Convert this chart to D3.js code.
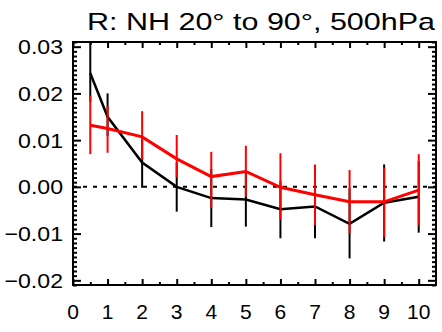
<!DOCTYPE html>
<html><head><meta charset="utf-8">
<script src="https://cdn.jsdelivr.net/npm/d3@7"></script>
<style>body{margin:0;background:#fff}svg{display:block}text{font-family:"Liberation Sans",Arial,Helvetica,sans-serif;fill:#000}</style>
</head><body><svg id="c" width="442" height="332"></svg>
<script>
const titleText = "R: NH 20° to 90°, 500hPa";
const xValues = [0.5, 1, 2, 3, 4, 5, 6, 7, 8, 9, 10];
const xTickLabels = ["0","1","2","3","4","5","6","7","8","9","10"];
const yTickValues = [-0.02, -0.01, 0.00, 0.01, 0.02, 0.03];
const yTickLabels = ["\u22120.02","\u22120.01","0.00","0.01","0.02","0.03"];
const blackMean = [0.0243, 0.0150, 0.0052, 0.0000, -0.0024, -0.0027, -0.0048, -0.0042, -0.0079, -0.0034, -0.0021];
const blackHigh = [0.0320, 0.0200, 0.0103, 0.0052, 0.0038, 0.0032, 0.0013, 0.0025, -0.0003, 0.0048, 0.0055];
const blackLow  = [0.0182, 0.0109, -0.0002, -0.0053, -0.0086, -0.0085, -0.0110, -0.0110, -0.0153, -0.0117, -0.0098];
const redMean = [0.0132, 0.0125, 0.0107, 0.0060, 0.0022, 0.0033, -0.0001, -0.0017, -0.0032, -0.0032, -0.0007];
const redHigh = [0.0195, 0.0173, 0.0162, 0.0111, 0.0075, 0.0088, 0.0072, 0.0048, 0.0036, 0.0041, 0.0070];
const redLow  = [0.0070, 0.0073, 0.0058, 0.0021, -0.0045, -0.0021, -0.0069, -0.0082, -0.0099, -0.0107, -0.0082];

const svg = d3.select("#c");
const L = 73, R = 436, T = 42, B = 285;
const x = d3.scaleLinear().domain([0, 10.5]).range([L, R]);
const y = d3.scaleLinear().domain([-0.021, 0.031]).range([B, T]);

svg.append("defs").append("clipPath").attr("id","clip")
  .append("rect").attr("x",L).attr("y",T).attr("width",R-L).attr("height",B-T);
const plot = svg.append("g").attr("clip-path","url(#clip)");

plot.append("line").attr("x1",L).attr("x2",R).attr("y1",y(0)).attr("y2",y(0))
  .attr("stroke","#000").attr("stroke-width",2).attr("stroke-dasharray","4,6");

function series(mean, lo, hi, color, lw, bw){
  const g = plot.append("g");
  g.selectAll("line.err").data(xValues).join("line").attr("class","err")
    .attr("x1",d=>x(d)).attr("x2",d=>x(d))
    .attr("y1",(d,i)=>y(lo[i])).attr("y2",(d,i)=>y(hi[i]))
    .attr("stroke",color).attr("stroke-width",bw);
  g.append("path").datum(xValues.map((d,i)=>[d,mean[i]]))
    .attr("d", d3.line().x(d=>x(d[0])).y(d=>y(d[1])))
    .attr("fill","none").attr("stroke",color).attr("stroke-width",lw)
    .attr("stroke-linejoin","miter");
}
series(blackMean, blackLow, blackHigh, "#000", 2.5, 2);
series(redMean, redLow, redHigh, "#ff0000", 3, 2);

const xMajor = d3.range(0, 11, 1);
const xMinor = d3.range(0.5, 10.5, 1);
const yMajor = yTickValues;
const yMinor = d3.range(-21, 32, 1).map(v=>v/1000).filter(v=>Math.abs(Math.round(v*100)-v*100)>1e-6);

function styleAxis(g){ g.select(".domain").remove(); g.selectAll("line").attr("stroke","#000").attr("stroke-width",2); }

function ax(gen, pos, vals, size){
  svg.append("g").attr("transform",pos)
    .call(gen.tickValues(vals).tickSize(size).tickFormat(""))
    .call(styleAxis);
}
ax(d3.axisTop(x), `translate(0,${B})`, xMajor, 6);
ax(d3.axisTop(x), `translate(0,${B})`, xMinor, 3);
ax(d3.axisBottom(x), `translate(0,${T})`, xMajor, 6);
ax(d3.axisBottom(x), `translate(0,${T})`, xMinor, 3);
ax(d3.axisRight(y), `translate(${L},0)`, yMajor, 8);
ax(d3.axisRight(y), `translate(${L},0)`, yMinor, 4);
ax(d3.axisLeft(y), `translate(${R},0)`, yMajor, 8);
ax(d3.axisLeft(y), `translate(${R},0)`, yMinor, 4);

svg.append("rect").attr("x",L).attr("y",T).attr("width",R-L).attr("height",B-T)
  .attr("fill","none").attr("stroke","#000").attr("stroke-width",2);

svg.append("g").selectAll("text").data(xMajor).join("text")
  .attr("x",d=>x(d)).attr("y",318.5).attr("text-anchor","middle")
  .attr("font-size",21).text((d,i)=>xTickLabels[i]);

svg.append("g").selectAll("text").data(yTickValues).join("text")
  .attr("x",63).attr("y",d=>y(d)+7.5).attr("text-anchor","end")
  .attr("font-size",21).text((d,i)=>yTickLabels[i])
  .each(function(){ const w=this.getComputedTextLength(); this.setAttribute("textLength", w*1.1); this.setAttribute("lengthAdjust","spacingAndGlyphs"); });

svg.append("text").attr("x",87).attr("y",29.5).attr("font-size",24.5)
  .attr("textLength",348).attr("lengthAdjust","spacingAndGlyphs").text(titleText);
</script></body></html>
